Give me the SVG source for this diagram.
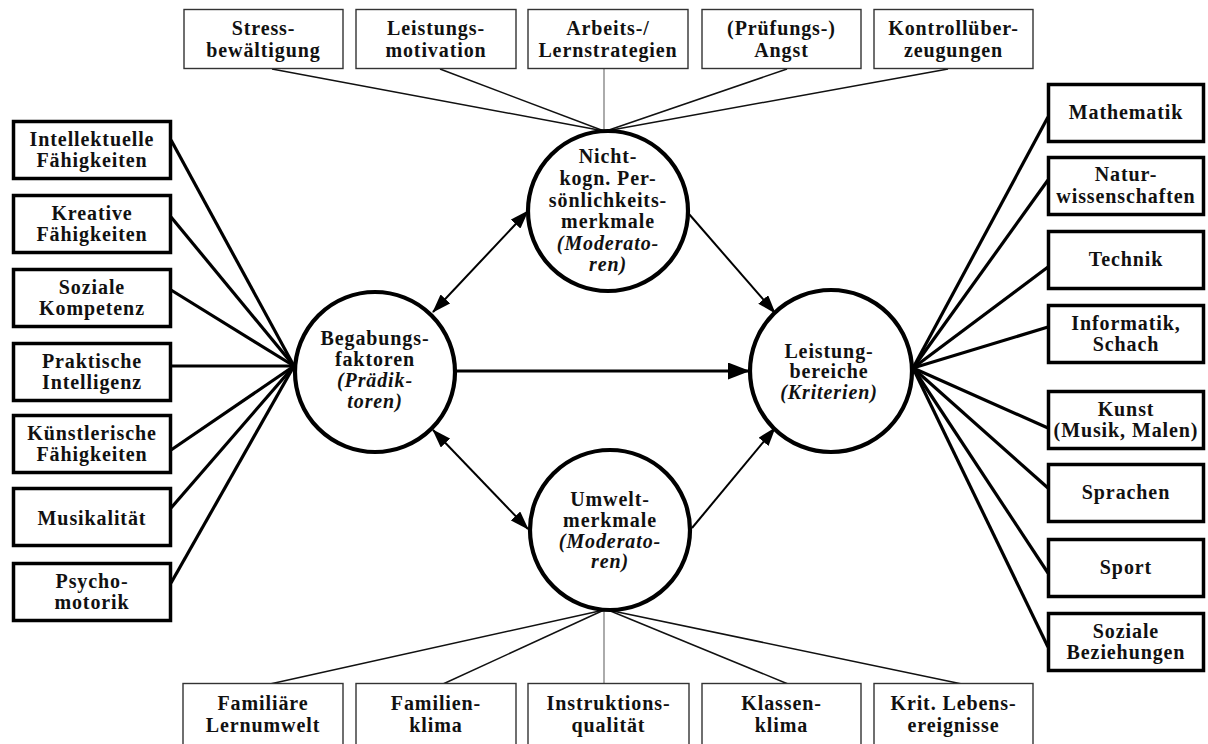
<svg xmlns="http://www.w3.org/2000/svg" width="1208" height="744" viewBox="0 0 1208 744">
<style>
text{font-family:"Liberation Serif","Times New Roman",serif;font-weight:bold;font-size:20px;letter-spacing:0.9px;text-anchor:middle;fill:#111}
.it{font-style:italic}
.thick rect{fill:#fff;stroke:#000;stroke-width:3.5}
.thin rect{fill:#fff;stroke:#333;stroke-width:1.4}
circle{fill:#fff;stroke:#000;stroke-width:4.2}
.c-thick line{stroke:#000;stroke-width:3.2}
.c-thin line{stroke:#111;stroke-width:1.5}
.c-gray line{stroke:#888;stroke-width:1.4}
.arr{stroke:#000;stroke-width:2}
.main{stroke:#000;stroke-width:3.2}
</style>
<defs>
<marker id="ah" markerUnits="userSpaceOnUse" markerWidth="19" markerHeight="13" refX="18" refY="6.5" orient="auto-start-reverse"><path d="M0,0 L19,6.5 L0,13 Z" fill="#000"/></marker>
<marker id="ahb" markerUnits="userSpaceOnUse" markerWidth="22" markerHeight="17" refX="21" refY="8.5" orient="auto"><path d="M0,0 L22,8.5 L0,17 Z" fill="#000"/></marker>
</defs>
<rect width="1208" height="744" fill="#fff"/>

<g id="connectors">
<g class="c-thick">
<line x1="171" y1="140" x2="294" y2="366"/>
<line x1="171" y1="217" x2="294" y2="366"/>
<line x1="171" y1="290" x2="294" y2="366"/>
<line x1="171" y1="366" x2="294" y2="366"/>
<line x1="171" y1="450" x2="294" y2="366"/>
<line x1="171" y1="508" x2="294" y2="366"/>
<line x1="171" y1="583" x2="294" y2="366"/>
<line x1="913" y1="368" x2="1048" y2="117"/>
<line x1="913" y1="368" x2="1048" y2="180"/>
<line x1="913" y1="368" x2="1048" y2="267"/>
<line x1="913" y1="368" x2="1048" y2="327"/>
<line x1="913" y1="368" x2="1048" y2="428"/>
<line x1="913" y1="368" x2="1048" y2="488"/>
<line x1="913" y1="368" x2="1048" y2="573"/>
<line x1="913" y1="368" x2="1048" y2="647"/>
</g>
<g class="c-thin">
<line x1="272" y1="69" x2="604" y2="131"/>
<line x1="440" y1="69" x2="604" y2="131"/>
<line x1="787" y1="69" x2="606" y2="131"/>
<line x1="948" y1="69" x2="606" y2="131"/>
<line x1="270" y1="684" x2="604" y2="610"/>
<line x1="443" y1="684" x2="604" y2="610"/>
<line x1="788" y1="684" x2="608" y2="610"/>
<line x1="962" y1="684" x2="608" y2="610"/>
</g>
<g class="c-gray">
<line x1="604" y1="69" x2="604" y2="131"/>
<line x1="604" y1="610" x2="604" y2="684"/>
</g>
<line class="arr" x1="433" y1="312" x2="528" y2="211" marker-start="url(#ah)" marker-end="url(#ah)"/>
<line class="arr" x1="433" y1="430" x2="528" y2="529" marker-start="url(#ah)" marker-end="url(#ah)"/>
<line class="arr" x1="689" y1="214" x2="775" y2="313" marker-end="url(#ah)"/>
<line class="arr" x1="692" y1="528" x2="775" y2="428" marker-end="url(#ah)"/>
<line class="main" x1="456" y1="371" x2="749" y2="371" marker-end="url(#ahb)"/>
</g>

<g id="n-stress" class="thin"><rect x="184" y="9.5" width="159" height="59"/><text x="263.5" y="35">Stress-</text><text x="263.5" y="57">bewältigung</text></g>
<g id="n-leistungsmotivation" class="thin"><rect x="356" y="9.5" width="160" height="59"/><text x="436" y="35">Leistungs-</text><text x="436" y="57">motivation</text></g>
<g id="n-arbeits" class="thin"><rect x="528" y="9.5" width="160" height="59"/><text x="608" y="35">Arbeits-/</text><text x="608" y="57">Lernstrategien</text></g>
<g id="n-angst" class="thin"><rect x="702" y="9.5" width="159" height="59"/><text x="781.5" y="35">(Prüfungs-)</text><text x="781.5" y="57">Angst</text></g>
<g id="n-kontroll" class="thin"><rect x="874" y="9.5" width="159" height="59"/><text x="953.5" y="35">Kontrollüber-</text><text x="953.5" y="57">zeugungen</text></g>

<g id="n-intellektuelle" class="thick"><rect x="13.5" y="121.5" width="157" height="57"/><text x="92" y="146">Intellektuelle</text><text x="92" y="167">Fähigkeiten</text></g>
<g id="n-kreative" class="thick"><rect x="13.5" y="195.5" width="157" height="57"/><text x="92" y="220">Kreative</text><text x="92" y="241">Fähigkeiten</text></g>
<g id="n-soziale" class="thick"><rect x="13.5" y="269.5" width="157" height="57"/><text x="92" y="294">Soziale</text><text x="92" y="315">Kompetenz</text></g>
<g id="n-praktische" class="thick"><rect x="13.5" y="343.5" width="157" height="57"/><text x="92" y="368">Praktische</text><text x="92" y="389">Intelligenz</text></g>
<g id="n-kuenstlerische" class="thick"><rect x="13.5" y="415.5" width="157" height="57"/><text x="92" y="440">Künstlerische</text><text x="92" y="461">Fähigkeiten</text></g>
<g id="n-musikalitaet" class="thick"><rect x="13.5" y="488.5" width="157" height="57"/><text x="92" y="525">Musikalität</text></g>
<g id="n-psychomotorik" class="thick"><rect x="13.5" y="563.5" width="157" height="57"/><text x="92" y="588">Psycho-</text><text x="92" y="609">motorik</text></g>

<g id="n-mathematik" class="thick"><rect x="1048.5" y="84.5" width="155" height="57"/><text x="1126" y="119">Mathematik</text></g>
<g id="n-natur" class="thick"><rect x="1048.5" y="157.5" width="155" height="57"/><text x="1126" y="181">Natur-</text><text x="1126" y="203">wissenschaften</text></g>
<g id="n-technik" class="thick"><rect x="1048.5" y="231.5" width="155" height="57"/><text x="1126" y="266">Technik</text></g>
<g id="n-informatik" class="thick"><rect x="1048.5" y="305.5" width="155" height="57"/><text x="1126" y="330">Informatik,</text><text x="1126" y="351">Schach</text></g>
<g id="n-kunst" class="thick"><rect x="1048.5" y="391.5" width="155" height="57"/><text x="1126" y="416">Kunst</text><text x="1126" y="437">(Musik, Malen)</text></g>
<g id="n-sprachen" class="thick"><rect x="1048.5" y="464.5" width="155" height="57"/><text x="1126" y="499">Sprachen</text></g>
<g id="n-sport" class="thick"><rect x="1048.5" y="539.5" width="155" height="57"/><text x="1126" y="574">Sport</text></g>
<g id="n-beziehungen" class="thick"><rect x="1048.5" y="613.5" width="155" height="57"/><text x="1126" y="638">Soziale</text><text x="1126" y="659">Beziehungen</text></g>

<g id="n-familiaere" class="thin"><rect x="183" y="683.5" width="160" height="70"/><text x="263" y="710">Familiäre</text><text x="263" y="732">Lernumwelt</text></g>
<g id="n-familienklima" class="thin"><rect x="356" y="683.5" width="160" height="70"/><text x="436" y="710">Familien-</text><text x="436" y="732">klima</text></g>
<g id="n-instruktion" class="thin"><rect x="528" y="683.5" width="161" height="70"/><text x="608.5" y="710">Instruktions-</text><text x="608.5" y="732">qualität</text></g>
<g id="n-klassenklima" class="thin"><rect x="702" y="683.5" width="159" height="70"/><text x="781.5" y="710">Klassen-</text><text x="781.5" y="732">klima</text></g>
<g id="n-krit" class="thin"><rect x="874" y="683.5" width="159" height="70"/><text x="953.5" y="710">Krit. Lebens-</text><text x="953.5" y="732">ereignisse</text></g>

<g id="n-begabung"><circle cx="375" cy="372" r="80"/><text x="375" y="345">Begabungs-</text><text x="375" y="366">faktoren</text><text class="it" x="375" y="387">(Prädik-</text><text class="it" x="375" y="408">toren)</text></g>
<g id="n-nichtkogn"><circle cx="608" cy="211" r="80"/><text x="608" y="163">Nicht-</text><text x="608" y="185">kogn. Per-</text><text x="608" y="207">sönlichkeits-</text><text x="608" y="228">merkmale</text><text class="it" x="608" y="250">(Moderato-</text><text class="it" x="608" y="271">ren)</text></g>
<g id="n-umwelt"><circle cx="610" cy="530" r="80"/><text x="610" y="506">Umwelt-</text><text x="610" y="527">merkmale</text><text class="it" x="610" y="548">(Moderato-</text><text class="it" x="610" y="568">ren)</text></g>
<g id="n-leistung"><circle cx="831" cy="371" r="81"/><text x="829" y="358">Leistung-</text><text x="829" y="378">bereiche</text><text class="it" x="829" y="399">(Kriterien)</text></g>
</svg>
